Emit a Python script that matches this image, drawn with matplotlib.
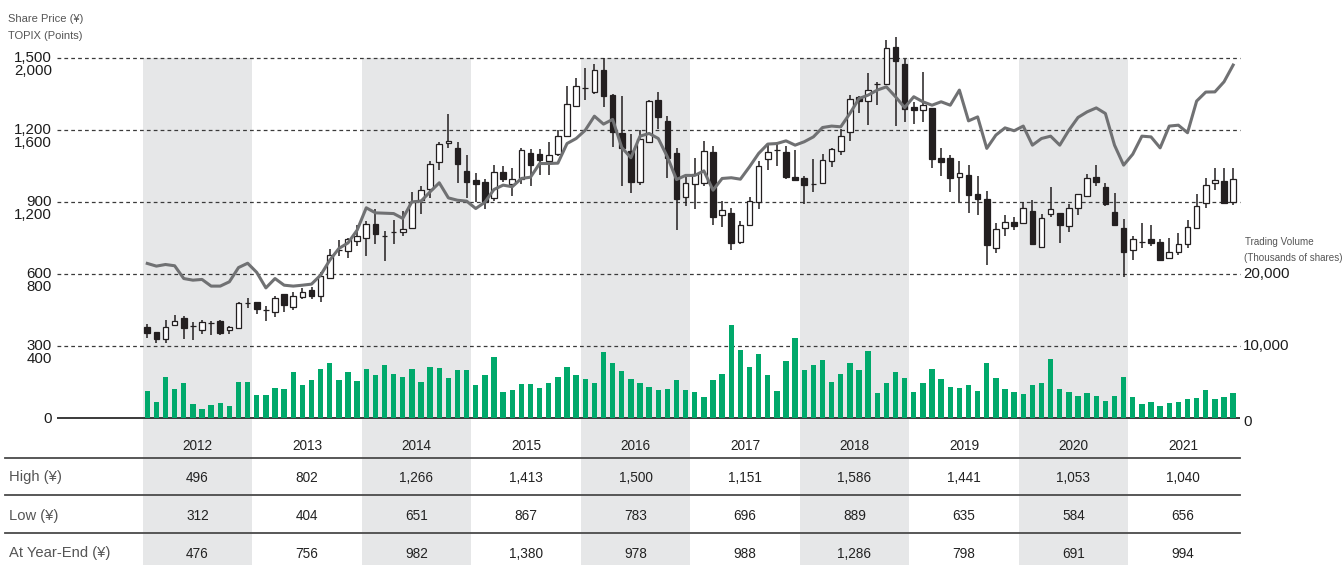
import numpy as np
import matplotlib
matplotlib.use('Agg')
import matplotlib.pyplot as plt

plt.rcParams['font.family'] = ['Liberation Sans', 'DejaVu Sans']

# ---- data ----
years = ['2012', '2013', '2014', '2015', '2016', '2017', '2018', '2019', '2020', '2021']
year_high = ['496', '802', '1,266', '1,413', '1,500', '1,151', '1,586', '1,441', '1,053', '1,040']
year_low = ['312', '404', '651', '867', '783', '696', '889', '635', '584', '656']
year_end = ['476', '756', '982', '1,380', '978', '988', '1,286', '798', '691', '994']

# monthly candles Jan 2012 - Dec 2021 (yen)
opens = [378, 358, 329, 385, 413, 383, 363, 394, 401, 363, 375, 478,
         481, 447, 438, 513, 461, 504, 531, 508, 582, 700, 693, 735,
         750, 806, 756, 772, 775, 790, 906, 953, 1065, 1142, 1121, 1029,
         988, 983, 915, 1025, 975, 993, 1100, 1100, 1067, 1096, 1171, 1300,
         1371, 1356, 1447, 1342, 1185, 1112, 983, 1146, 1321, 1235, 1104, 917,
         972, 978, 1108, 843, 851, 731, 801, 900, 1076, 1115, 1106, 1001,
         997, 974, 979, 1067, 1111, 1190, 1335, 1318, 1389, 1390, 1542, 1472,
         1293, 1283, 1289, 1081, 1081, 1004, 1010, 931, 910, 706, 789, 813,
         811, 860, 711, 847, 854, 800, 874, 924, 1001, 960, 858, 789,
         696, 733, 742, 733, 665, 688, 725, 790, 892, 978, 985, 899]
highs = [389, 358, 408, 429, 422, 397, 408, 403, 406, 381, 482, 496,
         483, 464, 506, 513, 525, 539, 542, 608, 701, 738, 747, 802,
         819, 867, 778, 825, 862, 938, 964, 1068, 1149, 1266, 1146, 1092,
         1017, 994, 1051, 1047, 1039, 1125, 1118, 1118, 1150, 1199, 1381, 1413,
         1458, 1475, 1500, 1350, 1339, 1183, 1200, 1325, 1356, 1256, 1122, 1001,
         1081, 1151, 1131, 904, 875, 817, 918, 1068, 1140, 1148, 1132, 1114,
         1008, 1076, 1097, 1125, 1204, 1343, 1340, 1436, 1399, 1572, 1586, 1492,
         1314, 1441, 1289, 1122, 1092, 1068, 1051, 1008, 942, 811, 843, 835,
         900, 906, 847, 960, 854, 889, 933, 1014, 1053, 979, 935, 826,
         756, 810, 801, 744, 750, 768, 822, 932, 996, 1039, 1040, 1040]
lows = [333, 311, 311, 385, 329, 325, 346, 342, 342, 350, 371, 457,
        432, 404, 417, 440, 450, 492, 494, 482, 578, 674, 665, 714,
        674, 725, 651, 725, 757, 786, 850, 913, 1033, 1124, 978, 913,
        897, 867, 901, 982, 924, 972, 965, 1011, 1011, 1089, 1167, 1293,
        1325, 1350, 1294, 1128, 965, 936, 968, 1146, 1201, 999, 783, 882,
        869, 965, 803, 794, 696, 725, 800, 869, 1032, 1047, 994, 988,
        889, 940, 979, 1044, 1093, 1153, 1269, 1219, 1301, 1389, 1215, 1231,
        1224, 1232, 1040, 1007, 939, 900, 853, 844, 635, 686, 757, 782,
        808, 721, 708, 836, 728, 774, 844, 921, 965, 883, 800, 584,
        656, 707, 715, 657, 663, 678, 707, 788, 874, 946, 894, 885]
closes = [354, 328, 379, 404, 374, 383, 397, 394, 353, 378, 478, 476,
          453, 447, 499, 469, 507, 521, 507, 589, 679, 700, 742, 756,
          806, 763, 756, 772, 786, 899, 946, 1058, 1138, 1154, 1057, 982,
          975, 896, 1022, 992, 994, 1115, 1053, 1071, 1093, 1171, 1307, 1380,
          1371, 1447, 1340, 1190, 1124, 982, 1160, 1318, 1253, 1082, 911, 978,
          1015, 1112, 836, 863, 728, 804, 904, 1050, 1108, 1115, 1003, 988,
          969, 974, 1075, 1118, 1175, 1329, 1319, 1365, 1389, 1538, 1486, 1286,
          1282, 1304, 1078, 1065, 999, 1017, 928, 911, 719, 785, 813, 798,
          872, 724, 832, 868, 803, 874, 931, 1000, 982, 888, 803, 691,
          744, 733, 728, 657, 688, 722, 794, 883, 967, 989, 894, 994]

# thousands of shares
volume = [3660, 2130, 5600, 3940, 4770, 1850, 1160, 1710, 1990, 1570, 4910, 4910,
          3100, 3100, 4070, 3940, 6300, 4490, 5190, 6710, 7550, 5190, 6300, 5050,
          6710, 5880, 7270, 6020, 5600, 6710, 4910, 6990, 6850, 5460, 6580, 6580,
          4490, 5880, 8380, 3520, 3800, 4630, 4630, 4070, 4770, 5600, 6990, 5880,
          5330, 4770, 9080, 7550, 6440, 5330, 4770, 4210, 3800, 3940, 5190, 3800,
          3520, 2820, 5190, 6020, 12830, 9350, 6990, 8800, 5880, 3660, 7830, 11020,
          6580, 7270, 7960, 4910, 6020, 7550, 6580, 9210, 3380, 4770, 6300, 5460,
          3520, 4770, 6710, 5330, 4210, 4070, 4490, 3660, 7550, 5460, 3940, 3520,
          3240, 4490, 4770, 8100, 3940, 3520, 2960, 3380, 2960, 2270, 2960, 5600,
          2820, 1850, 2130, 1570, 1990, 2130, 2550, 2690, 3800, 2550, 2820, 3380]

# points
topix = [856, 841, 850, 843, 772, 763, 767, 730, 730, 754, 833, 857,
         806, 720, 772, 735, 730, 735, 741, 791, 874, 939, 970, 1041,
         1165, 1137, 1135, 1133, 1106, 1198, 1202, 1254, 1304, 1220, 1207, 1202,
         1161, 1196, 1267, 1291, 1282, 1328, 1335, 1411, 1411, 1413, 1522, 1550,
         1596, 1674, 1630, 1656, 1500, 1443, 1563, 1578, 1550, 1448, 1322, 1345,
         1345, 1370, 1263, 1328, 1332, 1324, 1393, 1467, 1519, 1522, 1537, 1513,
         1532, 1559, 1611, 1619, 1615, 1689, 1772, 1791, 1819, 1837, 1782, 1722,
         1782, 1754, 1735, 1754, 1735, 1819, 1648, 1670, 1495, 1569, 1609, 1593,
         1619, 1513, 1550, 1563, 1513, 1596, 1667, 1698, 1720, 1689, 1513, 1402,
         1463, 1563, 1559, 1498, 1619, 1624, 1582, 1758, 1808, 1809, 1865, 1958]

price_ticks = [0, 300, 600, 900, 1200, 1500]
topix_ticks = [0, 400, 800, 1200, 1600, 2000]
vol_ticks = [0, 10000, 20000]

# ---- layout (pixel based) ----
W, H = 1344, 565
X0_PX = 142.7        # left edge of 2012 band
PX_PER_MONTH = 9.125
ZERO_PX = 417.5
PX_PER_YEN = 0.24

def px_x(px):
  return -0.5 + (px - X0_PX) / PX_PER_MONTH

def px_y(py):
  return (ZERO_PX - py) / PX_PER_YEN

ink = '#231f20'
fig = plt.figure(figsize=(W / 100, H / 100), dpi=100)
ax = fig.add_axes([0, 0, 1, 1])
ax.set_xlim(px_x(0), px_x(W))
ax.set_ylim(px_y(H), px_y(0))
ax.axis('off')

# twin scales: TOPIX (4/3 of price grid) and volume (10,000 per 300 yen)
ax_t = ax.twinx()
ax_t.set_ylim(px_y(H) * 4 / 3, px_y(0) * 4 / 3)
ax_t.axis('off')
ax_v = ax.twinx()
ax_v.set_ylim(px_y(H) * 10000 / 300, px_y(0) * 10000 / 300)
ax_v.axis('off')

# grey bands on alternate years
for k in range(0, len(years), 2):
  ax.axvspan(12 * k - 0.5, 12 * k + 11.5, ymin=0, ymax=1 - 57.5 / H,
             color='#e6e7e8', lw=0, zorder=0)

# grid
gx0, gx1 = px_x(57), px_x(1240)
ax.hlines(price_ticks[1:], gx0, gx1, colors='#3a3a3a', linestyles=(0, (3, 2.5)),
          lw=0.9, zorder=1)
ax.hlines([0], gx0, gx1, colors='#3a3a3a', lw=1.4, zorder=6)

months = np.arange(len(opens))

# volume
ax_v.bar(months, volume, width=0.58, color='#00a96b', zorder=2)

# topix
ax_t.plot(months, topix, color='#707173', lw=2.2, zorder=3, solid_joinstyle='round')

# candles
o = np.array(opens); c = np.array(closes)
ax.vlines(months, lows, highs, colors=ink, lw=1.1, zorder=4)
up = c >= o
bot = np.minimum(o, c)
hgt = np.abs(c - o)
ax.bar(months[up], hgt[up], bottom=bot[up], width=0.62, facecolor='white',
       edgecolor=ink, lw=0.9, zorder=5)
ax.bar(months[~up], hgt[~up], bottom=bot[~up], width=0.62, facecolor=ink,
       edgecolor=ink, lw=0.9, zorder=5)

tick_kw = dict(fontsize=10.8, color='#1c1c1c')

# left axis labels
for p, t in zip(price_ticks, topix_ticks):
  if p == 0:
    ax.text(px_x(52), px_y(419), '0', ha='right', va='center', **tick_kw)
    continue
  ax.text(px_x(52), p, f'{p:,}', ha='right', va='center', **tick_kw)
  ax.text(px_x(52), p - 13.5 / PX_PER_YEN, f'{t:,}', ha='right', va='center', **tick_kw)

ax.text(px_x(8), px_y(19.5), 'Share Price (¥)', ha='left', va='center', fontsize=8, color='#555')
ax.text(px_x(8), px_y(36), 'TOPIX (Points)', ha='left', va='center', fontsize=8, color='#555')

# right axis labels
for v in vol_ticks:
  yy = v * 300 / 10000
  off = 0 if v else 4.5
  ax.text(px_x(1243), yy - off / PX_PER_YEN, f'{v:,}', ha='left', va='center', **tick_kw)
ax.text(px_x(1245), px_y(242), 'Trading Volume', ha='left', va='center', fontsize=7.1, color='#555')
ax.text(px_x(1243.5), px_y(258), '(Thousands of shares)', ha='left', va='center', fontsize=7.1, color='#555')

# table
row_px = [445.5, 477.5, 516, 553.5]
line_px = [457.7, 495.3, 533.3]
for ly in line_px:
  ax.plot([px_x(5), px_x(1240)], [px_y(ly)] * 2, color='#4a4a4a', lw=1.3, zorder=6)

row_names = ['High (¥)', 'Low (¥)', 'At Year-End (¥)']
for r, name in enumerate(row_names):
  ax.text(px_x(9), px_y(row_px[r + 1]), name, ha='left', va='center', fontsize=10.6, color='#555')

for k, yr in enumerate(years):
  xc = 12 * k + 5.5
  ax.text(xc, px_y(row_px[0]), yr, ha='center', va='center', fontsize=9.8, color='#222')
  for r, vals in enumerate([year_high, year_low, year_end]):
    ax.text(xc, px_y(row_px[r + 1]), vals[k], ha='center', va='center', fontsize=9.8, color='#222')

fig.savefig('out.png', dpi=100)
